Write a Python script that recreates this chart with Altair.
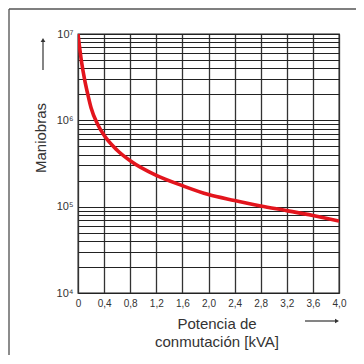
import altair as alt
import pandas as pd

# Curve
kva = [0, 0.05, 0.1, 0.15, 0.2, 0.3, 0.4, 0.6, 0.8, 1.2, 1.6, 2.0, 2.4, 2.8, 3.2, 3.6, 4.0]
maniobras = [1.0e7, 5.0e6, 3.0e6, 2.0e6, 1.4e6, 9.0e5, 6.7e5, 4.5e5, 3.4e5, 2.3e5,
             1.75e5, 1.38e5, 1.18e5, 1.02e5, 9.0e4, 7.9e4, 6.8e4]

# Axis ticks / grid
x_ticks = [0, 0.4, 0.8, 1.2, 1.6, 2.0, 2.4, 2.8, 3.2, 3.6, 4.0]
y_grid = [1e4, 2e4, 3e4, 4e4, 5e4, 6e4, 7e4, 8e4, 9e4,
          1e5, 2e5, 3e5, 4e5, 5e5, 6e5, 7e5, 8e5, 9e5,
          1e6, 2e6, 3e6, 4e6, 5e6, 6e6, 7e6, 8e6, 9e6,
          1e7]

y_title = "Maniobras"
x_title = ["Potencia de", "conmutación [kVA]"]

FONT = "Liberation Sans"
W, H = 261, 259

df = pd.DataFrame({"kva": kva, "man": maniobras})

x_label_expr = "datum.value == 0 ? '0' : replace(format(datum.value, '.1f'), '.', ',')"
y_label_expr = (
    "abs(datum.value - 10000) < 1 ? '10⁴' : "
    "abs(datum.value - 100000) < 1 ? '10⁵' : "
    "abs(datum.value - 1000000) < 1 ? '10⁶' : "
    "abs(datum.value - 10000000) < 1 ? '10⁷' : ''"
)

curve = alt.Chart(df).mark_line(
    color="#e3151d", strokeWidth=3.6, interpolate="monotone", clip=True
).encode(
    x=alt.X("kva:Q",
            scale=alt.Scale(domain=[0, 4], nice=False, zero=False),
            axis=alt.Axis(values=x_ticks, labelExpr=x_label_expr, grid=True,
                          ticks=False, domain=False, labelPadding=5,
                          labelFontSize=10, labelColor="#333", labelFont=FONT,
                          gridColor="#333", gridWidth=1.3, title=None,
                          labelFlush=False)),
    y=alt.Y("man:Q",
            scale=alt.Scale(type="log", domain=[1e4, 1e7], nice=False),
            axis=alt.Axis(values=y_grid, labelExpr=y_label_expr, grid=True,
                          ticks=False, domain=False, labelPadding=5,
                          labelFontSize=11, labelColor="#333", labelFont=FONT,
                          gridColor="#222", gridWidth=1.0, title=None,
                          labelFlush=False, labelOverlap=False)),
)

one = pd.DataFrame({"a": [0]})
base = alt.Chart(one)

# outer frame (left and top edges, the rest is off-picture)
frame_left = base.mark_rule(color="#666", strokeWidth=1.5).encode(
    x=alt.value(-69), y=alt.value(-25), y2=alt.value(400))
frame_top = base.mark_rule(color="#555", strokeWidth=1.5).encode(
    x=alt.value(-69), x2=alt.value(400), y=alt.value(-25))

# arrows
arrow_up = base.mark_rule(color="#333", strokeWidth=1.2).encode(
    x=alt.value(-35), y=alt.value(36), y2=alt.value(7))
arrow_up_head = base.mark_point(shape="triangle-up", filled=True, color="#333",
                                size=22, opacity=1).encode(
    x=alt.value(-35), y=alt.value(6))
arrow_right = base.mark_rule(color="#333", strokeWidth=1.2).encode(
    x=alt.value(227), x2=alt.value(258), y=alt.value(287))
arrow_right_head = base.mark_point(shape="triangle-right", filled=True, color="#333",
                                   size=22, opacity=1).encode(
    x=alt.value(259), y=alt.value(287))

# titles
ytitle = base.mark_text(font=FONT, fontSize=15, color="#333", angle=270,
                        align="center", baseline="middle").encode(
    x=alt.value(-37), y=alt.value(104), text=alt.value(y_title))
xtitle1 = base.mark_text(font=FONT, fontSize=15, color="#333",
                         align="center", baseline="middle").encode(
    x=alt.value(139), y=alt.value(290), text=alt.value(x_title[0]))
xtitle2 = base.mark_text(font=FONT, fontSize=15, color="#333",
                         align="center", baseline="middle").encode(
    x=alt.value(139), y=alt.value(308), text=alt.value(x_title[1]))

chart = alt.layer(
    curve, frame_left, frame_top, arrow_up, arrow_up_head,
    arrow_right, arrow_right_head, ytitle, xtitle1, xtitle2
).properties(
    width=W, height=H,
    padding={"left": 70, "top": 26, "right": 17, "bottom": 62},
    autosize=alt.AutoSizeParams(type="none"),
    background="white",
).configure_view(stroke="#222", strokeWidth=1.3)

chart.save("out.html", embed_options={"renderer": "svg", "actions": False})
